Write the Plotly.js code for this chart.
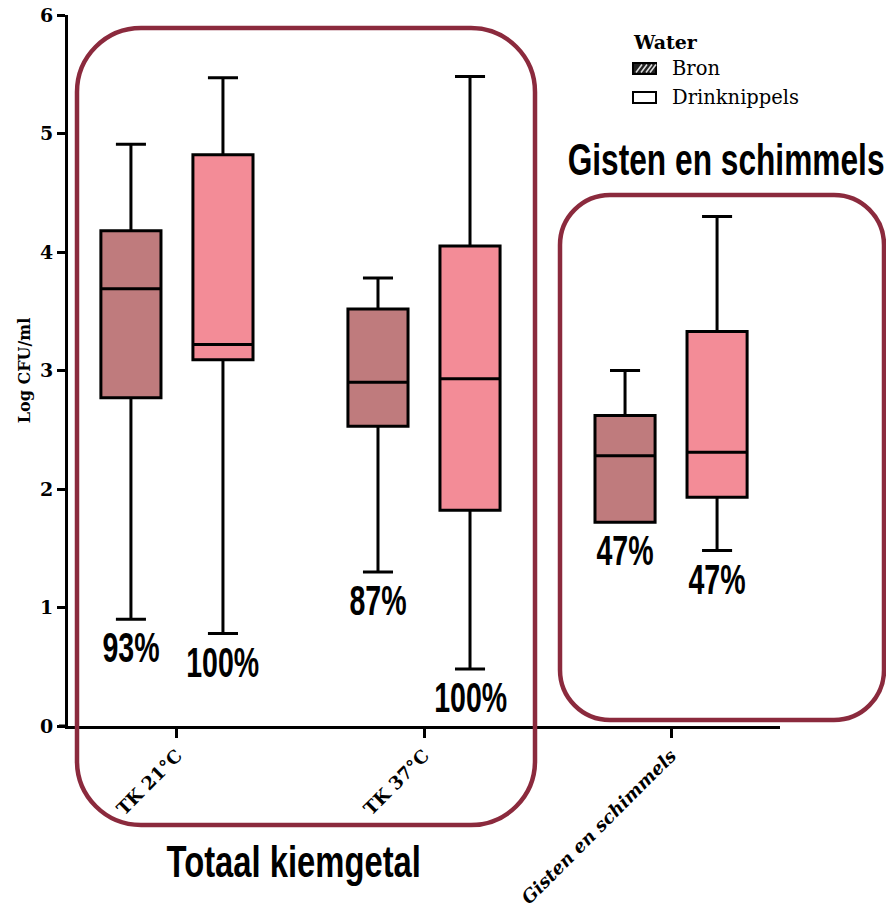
<!DOCTYPE html>
<html>
<head>
<meta charset="utf-8">
<script src="https://cdn.plot.ly/plotly-3.0.1.min.js"></script>
<style>html,body{margin:0;padding:0;background:#fff;}#chart{width:886px;height:913px;}</style>
</head>
<body>
<div id="chart"></div>
<script>
// ---- data ----
var categories = ["TK 21°C", "TK 37°C", "Gisten en schimmels"];
var tickLabels = ["TK 21°C", "TK 37°C", "<i>Gisten en schimmels</i>"];

var bronLower  = [0.90, 1.30, 1.72];
var bronQ1     = [2.77, 2.53, 1.72];
var bronMedian = [3.69, 2.90, 2.28];
var bronQ3     = [4.18, 3.52, 2.62];
var bronUpper  = [4.91, 3.78, 3.00];

var drinkLower  = [0.78, 0.48, 1.48];
var drinkQ1     = [3.09, 1.82, 1.93];
var drinkMedian = [3.22, 2.93, 2.31];
var drinkQ3     = [4.82, 4.05, 3.33];
var drinkUpper  = [5.47, 5.48, 4.30];

var bronPct  = ["93%", "87%", "47%"];
var drinkPct = ["100%", "100%", "47%"];

var seriesNames = ["Bron", "Drinknippels"];
var legendTitle = "Water";
var groupTitles = ["Totaal kiemgetal", "Gisten en schimmels"];
var yTitle = "Log CFU/ml";

// ---- styling ----
var bronColor = "#bf7b7d";
var drinkColor = "#f38c97";
var frameColor = "#8b2a3d";
var serif = "DejaVu Serif, Liberation Serif, serif";
var sans = "Liberation Sans, Arial, sans-serif";

var W = 886, H = 913;
var mL = 68, mR = 106, mT = 15, mB = 187;
var pw = W - mL - mR, ph = H - mT - mB;
function px(x) { return (x - mL) / pw; }
function py(y) { return (H - mB - y) / ph; }

var boxgap = 0.255, boxgroupgap = 0.347;
var off = 0.25 * (1 - boxgap);

var traces = [
  {
    type: "box", name: seriesNames[0], x: categories,
    q1: bronQ1, median: bronMedian, q3: bronQ3,
    lowerfence: bronLower, upperfence: bronUpper,
    fillcolor: bronColor, line: {color: "#000", width: 3},
    whiskerwidth: 0.5, boxpoints: false, showlegend: false, hoverinfo: "skip"
  },
  {
    type: "box", name: seriesNames[1], x: categories,
    q1: drinkQ1, median: drinkMedian, q3: drinkQ3,
    lowerfence: drinkLower, upperfence: drinkUpper,
    fillcolor: drinkColor, line: {color: "#000", width: 3},
    whiskerwidth: 0.5, boxpoints: false, showlegend: false, hoverinfo: "skip"
  }
];

// rounded rectangle path in paper coordinates
function roundRect(x0, y0, x1, y1, r) {
  var k = 0.5523 * r;
  function P(x, y) { return px(x) + "," + py(y); }
  return "M" + P(x0 + r, y0) +
    " L" + P(x1 - r, y0) +
    " C" + P(x1 - r + k, y0) + " " + P(x1, y0 + r - k) + " " + P(x1, y0 + r) +
    " L" + P(x1, y1 - r) +
    " C" + P(x1, y1 - r + k) + " " + P(x1 - r + k, y1) + " " + P(x1 - r, y1) +
    " L" + P(x0 + r, y1) +
    " C" + P(x0 + r - k, y1) + " " + P(x0, y1 - r + k) + " " + P(x0, y1 - r) +
    " L" + P(x0, y0 + r) +
    " C" + P(x0, y0 + r - k) + " " + P(x0 + r - k, y0) + " " + P(x0 + r, y0) + " Z";
}

var shapes = [
  {type: "line", xref: "paper", yref: "paper", x0: px(59), x1: px(68), y0: 0, y1: 0,
   line: {color: "#000", width: 3}},
  {type: "path", xref: "paper", yref: "paper", path: roundRect(77, 28, 535, 825, 64),
   line: {color: frameColor, width: 4.5}, fillcolor: "rgba(0,0,0,0)", layer: "above"},
  {type: "path", xref: "paper", yref: "paper", path: roundRect(560, 195, 884, 720, 50),
   line: {color: frameColor, width: 4.5}, fillcolor: "rgba(0,0,0,0)", layer: "above"},
  // legend keys
  {type: "rect", xref: "paper", yref: "paper", x0: px(633), x1: px(656), y0: py(74), y1: py(63),
   line: {color: "#000", width: 2}, fillcolor: "#222"},
  {type: "rect", xref: "paper", yref: "paper", x0: px(633), x1: px(656), y0: py(103), y1: py(92),
   line: {color: "#000", width: 2}, fillcolor: "#fff"}
];
// hatch stripes on Bron key
[636, 641, 646, 650].forEach(function (sx) {
  shapes.push({type: "line", xref: "paper", yref: "paper",
    x0: px(sx), y0: py(72.5), x1: px(sx + 6), y1: py(64.5),
    line: {color: "#ddd", width: 1.6}});
});

var pctFont = {family: sans, size: 42, color: "#000", weight: "bold"};
var titleFont = {family: sans, size: 44, color: "#000", weight: "bold"};
var annotations = [];
for (var i = 0; i < categories.length; i++) {
  annotations.push({x: i - off, y: bronLower[i], xref: "x", yref: "y", text: bronPct[i],
    showarrow: false, yanchor: "top", yshift: -3, font: pctFont, name: "narrow"});
  annotations.push({x: i + off, y: drinkLower[i], xref: "x", yref: "y", text: drinkPct[i],
    showarrow: false, yanchor: "top", yshift: -3, font: pctFont, name: "narrow"});
}
annotations.push({xref: "paper", yref: "paper", x: px(293.5), y: py(861.6), xanchor: "center", yanchor: "middle",
  text: groupTitles[0], showarrow: false, font: titleFont, name: "narrow"});
annotations.push({xref: "paper", yref: "paper", x: px(726), y: py(159.6), xanchor: "center", yanchor: "middle",
  text: groupTitles[1], showarrow: false, font: titleFont, name: "narrow2"});
annotations.push({xref: "paper", yref: "paper", x: px(631), y: py(42), xanchor: "left", yanchor: "middle",
  text: "<b>" + legendTitle + "</b>", showarrow: false, font: {family: serif, size: 19, color: "#000"}});
annotations.push({xref: "paper", yref: "paper", x: px(670), y: py(69), xanchor: "left", yanchor: "middle",
  text: seriesNames[0], showarrow: false, font: {family: serif, size: 19.5, color: "#000"}});
annotations.push({xref: "paper", yref: "paper", x: px(670), y: py(97), xanchor: "left", yanchor: "middle",
  text: seriesNames[1], showarrow: false, font: {family: serif, size: 19.5, color: "#000"}});

var layout = {
  width: W, height: H,
  margin: {l: mL, r: mR, t: mT, b: mB, pad: 0},
  paper_bgcolor: "#fff", plot_bgcolor: "#fff",
  boxmode: "group", boxgap: boxgap, boxgroupgap: boxgroupgap,
  showlegend: false,
  xaxis: {
    type: "category", categoryarray: categories, range: [-0.441, 2.441],
    tickvals: categories, ticktext: tickLabels,
    showline: true, linecolor: "#000", linewidth: 3,
    ticks: "outside", ticklen: 9, tickwidth: 3, tickcolor: "#000",
    tickangle: -45, tickfont: {family: serif, size: 18, color: "#000", weight: "bold"},
    showgrid: false, zeroline: false, automargin: false
  },
  yaxis: {
    range: [0, 6], dtick: 1, tick0: 0,
    showline: true, linecolor: "#000", linewidth: 3,
    ticks: "outside", ticklen: 8, tickwidth: 3, tickcolor: "#000",
    tickfont: {family: serif, size: 19, color: "#000", weight: "bold"},
    showgrid: false, zeroline: false, automargin: false,
    title: {text: yTitle, font: {family: serif, size: 16, color: "#000", weight: "bold"}, standoff: 6}
  },
  shapes: shapes,
  annotations: annotations
};

// horizontally condense the big display texts (the reference uses a condensed face)
function condense(gd) {
  var anns = gd._fullLayout.annotations;
  var groups = gd.querySelectorAll("g.annotation");
  groups.forEach(function (g) {
    var idx = +g.getAttribute("data-index");
    var a = anns[idx];
    if (!a || (a.name !== "narrow" && a.name !== "narrow2")) return;
    var t = g.querySelector("text.annotation-text");
    if (!t) return;
    var sx = a.name === "narrow2" ? 0.72 : (a.font.size === 44 ? 0.745 : 0.68);
    var bb = t.getBBox();
    var cx = bb.x + bb.width / 2;
    t.setAttribute("transform", "translate(" + cx + ",0) scale(" + sx + ",1) translate(" + (-cx) + ",0)");
  });
}

Plotly.newPlot("chart", traces, layout, {staticPlot: true, displayModeBar: false}).then(condense);
</script>
</body>
</html>
